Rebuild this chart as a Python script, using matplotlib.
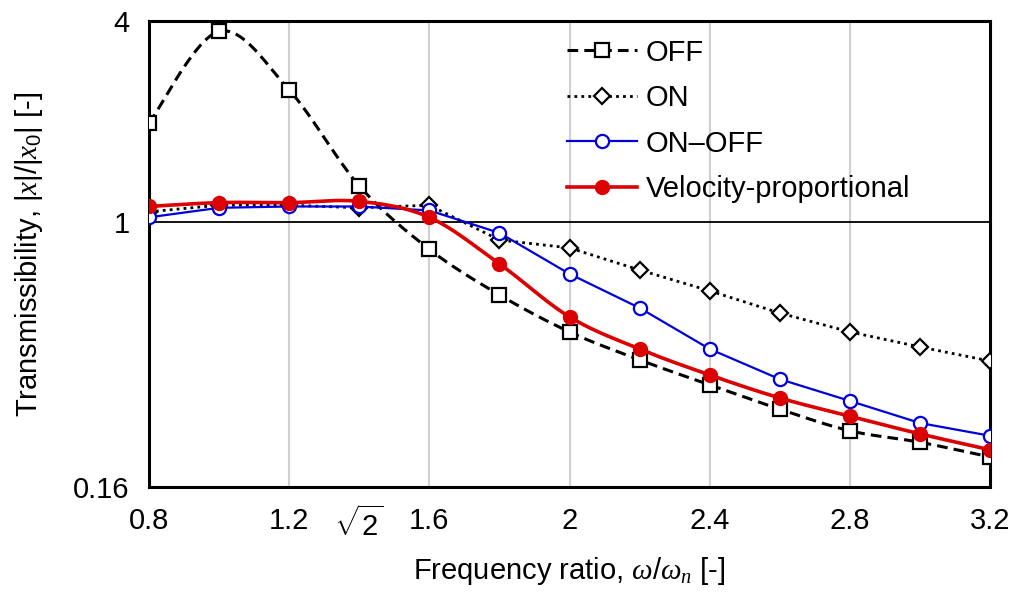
import numpy as np
import matplotlib
matplotlib.use("Agg")
import matplotlib.pyplot as plt
import matplotlib.transforms as mtransforms

plt.rcParams["font.family"] = ["Liberation Sans", "DejaVu Sans"]
plt.rcParams["mathtext.fontset"] = "custom"
plt.rcParams["mathtext.rm"] = "Liberation Sans"
plt.rcParams["mathtext.it"] = "Liberation Serif:italic"
plt.rcParams["mathtext.cal"] = "Liberation Serif:italic"

# frequency ratio values
freq = [0.8, 1.0, 1.2, 1.4, 1.6, 1.8, 2.0, 2.2, 2.4, 2.6, 2.8, 3.0, 3.2]

# transmissibility
t_off = [1.97, 3.72, 2.48, 1.28, 0.826, 0.603, 0.467, 0.385, 0.324, 0.274, 0.236, 0.218, 0.197]
t_on = [1.07, 1.12, 1.12, 1.10, 1.12, 0.881, 0.834, 0.716, 0.620, 0.532, 0.467, 0.421, 0.382]
t_onoff = [1.03, 1.10, 1.11, 1.11, 1.08, 0.925, 0.697, 0.551, 0.415, 0.337, 0.290, 0.249, 0.228]
t_vel = [1.11, 1.14, 1.14, 1.15, 1.03, 0.747, 0.518, 0.415, 0.347, 0.296, 0.261, 0.231, 0.207]

x_ticks = [0.8, 1.2, np.sqrt(2), 1.6, 2.0, 2.4, 2.8, 3.2]
x_ticklabels = ["0.8", "1.2", r"$\sqrt{2}$", "1.6", "2", "2.4", "2.8", "3.2"]
y_ticks = [0.16, 1, 4]
y_ticklabels = ["0.16", "1", "4"]


def smooth(x, y, n=20):
    # spreadsheet-style smoothed line, built in (x, log y) space
    x = np.asarray(x, float)
    ly = np.log10(y)
    px = np.concatenate([[x[0]], x, [x[-1]]])
    py = np.concatenate([[ly[0]], ly, [ly[-1]]])
    xs, ys = [], []
    t = np.linspace(0, 1, n, endpoint=False)
    for i in range(1, len(px) - 2):
        p0 = np.array([px[i], py[i]])
        p3 = np.array([px[i + 1], py[i + 1]])
        c1 = p0 + (p3 - np.array([px[i - 1], py[i - 1]])) / 6
        c2 = p3 - (np.array([px[i + 2], py[i + 2]]) - p0) / 6
        pts = ((1 - t) ** 3)[:, None] * p0 + (3 * (1 - t) ** 2 * t)[:, None] * c1 \
            + (3 * (1 - t) * t ** 2)[:, None] * c2 + (t ** 3)[:, None] * p3
        xs.extend(pts[:, 0])
        ys.extend(pts[:, 1])
    xs.append(x[-1])
    ys.append(ly[-1])
    marks = list(range(0, len(xs), n))
    return np.array(xs), 10 ** np.array(ys), marks


fig = plt.figure(figsize=(10.17, 5.94), dpi=100)
ax = fig.add_axes([0.1465, 0.180, 0.827, 0.785])

ax.set_yscale("log")

for gx in [1.2, 1.6, 2.0, 2.4, 2.8]:
    ax.axvline(gx, color="#d0d0d0", lw=1.5, zorder=0)
ax.axhline(1, color="black", lw=1.3, zorder=1)

sx, sy, mk = smooth(freq, t_off)
ax.plot(sx, sy, color="black", lw=2.2, dashes=(3.5, 2), marker="s", markevery=mk,
        ms=10, mfc="white", mec="black", mew=1.6, label="OFF", zorder=3)
ax.plot(freq, t_on, color="black", lw=2.0, dashes=(1, 1.5), marker="D",
        ms=8, mfc="white", mec="black", mew=1.6, label="ON", zorder=4)
ax.plot(freq, t_onoff, color="#0000dd", lw=1.6, marker="o",
        ms=9.5, mfc="white", mec="#0000dd", mew=1.6, label="ON\u2013OFF", zorder=5)
sx, sy, mk = smooth(freq, t_vel)
ax.plot(sx, sy, color="#dd0000", lw=2.6, marker="o", markevery=mk,
        ms=10, mfc="#dd0000", mec="#dd0000", label="Velocity-proportional", zorder=6)

ax.set_xlim(0.8, 3.2)
ax.set_ylim(0.16, 4)
ax.set_xticks(x_ticks)
ax.set_xticklabels(x_ticklabels)
ax.set_yticks(y_ticks)
ax.set_yticklabels(y_ticklabels)
ax.minorticks_off()
ax.tick_params(axis="both", length=0, labelsize=21)
ax.tick_params(axis="x", pad=14)
ax.tick_params(axis="y", pad=14)

# nudge the sqrt(2) label a little to the left, as in the original
sq = ax.get_xticklabels()[2]
sq.set_transform(sq.get_transform() + mtransforms.ScaledTranslation(-6 / 100, 0, fig.dpi_scale_trans))

for s in ax.spines.values():
    s.set_linewidth(2.2)
    s.set_color("black")

ax.set_xlabel(r"Frequency ratio, $\omega/\omega_n$ [-]", fontsize=21, labelpad=9)
ax.set_ylabel(r"Transmissibility, $|x|/|x_{\mathit{0}}|$ [-]", fontsize=21, labelpad=20)

ax.legend(loc="upper left", bbox_to_anchor=(0.497, 0.962), frameon=False,
          fontsize=21, handlelength=2.4, handletextpad=0.3, labelspacing=0.6,
          borderpad=0, borderaxespad=0)

fig.savefig("out.png", dpi=100)
